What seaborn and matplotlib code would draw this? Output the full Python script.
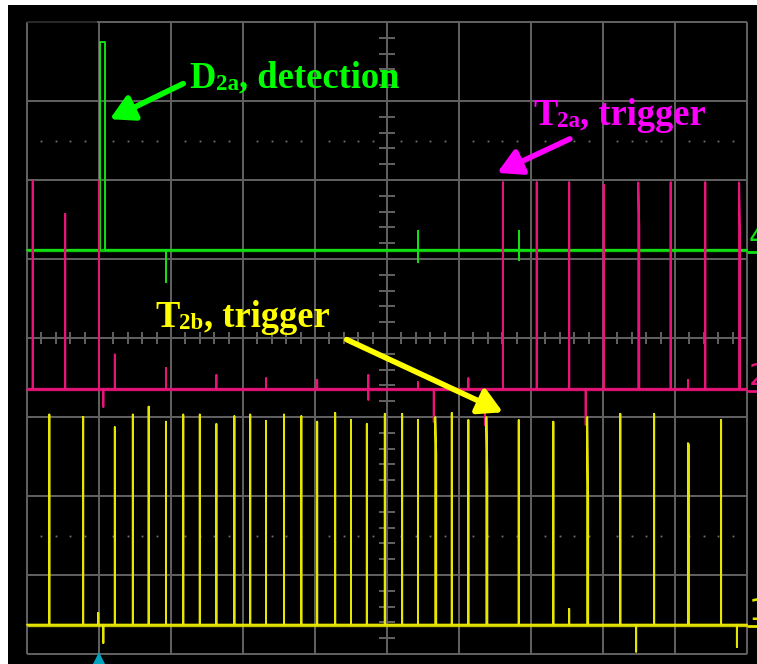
import matplotlib
matplotlib.use("Agg")
import matplotlib.pyplot as plt
import numpy as np
import pandas as pd
import seaborn as sns

# ---- captured traces (time in divisions, 10 div across; level in divisions, 8 div tall) ----
SAMPLE = 1 / 72  # one display sample in divisions

# CH4 - detector D2a (green)
ch4_base = 5.11
det_start, det_end, det_top = 1.01, 1.08, 7.75
ch4_glitch_t = [1.93, 5.43, 5.43, 6.83, 6.83]
ch4_glitch_v = [4.71, 5.35, 4.96, 5.35, 4.99]

# CH2 - trigger T2a (magenta)
ch2_base = 3.35
ch2_spike_t = [0.08, 0.53, 1.00, 6.61, 7.08, 7.53, 8.01, 8.49, 8.94, 9.42, 9.89]
ch2_spike_v = [5.99, 5.57, 5.99, 5.97, 5.97, 5.97, 5.94, 5.97, 5.97, 5.97, 5.97]
ch2_shoulder_t = [8.49, 9.89]
ch2_shoulder_v = [5.39, 5.33]
ch2_glitch_t = [1.06, 1.22, 1.93, 2.63, 3.32, 4.03, 4.74, 4.74, 5.43, 5.65, 6.13, 6.36, 7.76, 9.18]
ch2_glitch_v = [3.13, 3.79, 3.62, 3.53, 3.49, 3.47, 3.53, 3.22, 3.44, 2.94, 3.49, 2.90, 2.90, 3.47]

# CH1 - trigger T2b (yellow)
ch1_base = 0.37
ch1_spike_t = [0.31, 0.78, 1.22, 1.47, 1.69, 1.93, 2.17, 2.40, 2.63, 2.88, 3.10,
               3.32, 3.57, 3.81, 4.03, 4.28, 4.50, 4.72, 4.97, 5.21, 5.43, 5.67,
               5.90, 6.13, 6.38, 6.83, 7.31, 7.78, 8.24, 8.71, 9.18, 9.64]
ch1_spike_v = [3.03, 3.00, 2.87, 3.03, 3.13, 2.94, 3.03, 3.03, 2.91, 3.01, 3.03,
               2.95, 3.03, 3.01, 2.94, 3.05, 2.96, 2.91, 3.04, 3.04, 2.96, 3.00,
               3.05, 2.96, 3.00, 2.96, 2.94, 3.00, 3.04, 3.04, 2.67, 2.96]
ch1_shoulder_t = [5.67, 6.38, 7.78, 9.18]
ch1_shoulder_v = [2.52, 2.28, 1.94, 2.65]
ch1_glitch_t = [0.99, 1.06, 7.53, 8.46, 9.86]
ch1_glitch_v = [0.52, 0.14, 0.57, 0.03, 0.09]

channel_labels = ["4", "2", "1"]

# colours
GREEN, MAGENTA, YELLOW = "#12e012", "#e8147a", "#e6e600"
GREEN_TXT, MAGENTA_TXT, YELLOW_TXT = "#00ff00", "#ff00ff", "#ffff00"
GRID = "#626262"


def build_trace(base, spike_t=(), spike_v=(), shoulder_t=(), shoulder_v=(),
                glitch_t=(), glitch_v=(), pulse=None):
    shoulders = dict(zip(shoulder_t, shoulder_v))
    events = []
    for t, v in zip(spike_t, spike_v):
        if t in shoulders:
            pts = [(t, base), (t, v), (t + SAMPLE, shoulders[t]), (t + SAMPLE, base)]
        else:
            pts = [(t, base), (t, v), (t, base)]
        events.append((t, pts))
    for t, v in zip(glitch_t, glitch_v):
        events.append((t, [(t, base), (t, v), (t, base)]))
    if pulse is not None:
        t0, t1, top = pulse
        events.append((t0, [(t0, base), (t0, top), (t1, top), (t1, base)]))
    events.sort(key=lambda e: e[0])
    pts = [(0.0, base)]
    for _, p in events:
        pts.extend(p)
    pts.append((10.0, base))
    return pd.DataFrame(pts, columns=["t", "v"])


sns.set_theme(style="white")
plt.rcParams["font.family"] = ["Liberation Serif", "DejaVu Serif"]

W, H = 757, 664
DPI = 100
fig = plt.figure(figsize=(W / DPI, H / DPI), dpi=DPI, facecolor="white")
ax = fig.add_axes([8 / W, 0, 749 / W, 659 / H])
ax.set_facecolor("black")
ax.set_xlim(-19 / 72, 730 / 72)
ax.set_ylim(-10 / 79, 649 / 79)
for s in ax.spines.values():
    s.set_visible(False)

# graticule
glw = 1.4
ax.vlines(np.arange(0, 11), 0, 8, color=GRID, lw=glw, zorder=1)
ax.hlines(np.arange(0, 8), 0, 10, color=GRID, lw=glw, zorder=1)
ax.hlines(8, 0.97, 10, color=GRID, lw=glw, zorder=1)
ax.hlines(8, 0, 0.97, color="#2a2a2a", lw=glw, zorder=1)
minor_x = np.array([k / 5 for k in range(51) if k % 5])
minor_y = np.array([k / 5 for k in range(41) if k % 5])
ax.vlines(minor_x, 4 - 6 / 79, 4 + 6 / 79, color=GRID, lw=glw, zorder=1)
ax.hlines(minor_y, 5 - 8 / 72, 5 + 8 / 72, color=GRID, lw=glw, zorder=1)
for yd in (1.5, 6.5):
    ax.plot(minor_x, np.full_like(minor_x, yd), ls="none", marker="s",
            ms=1.3, color="#707070", mew=0, zorder=1)

# traces
traces = [
    (build_trace(ch4_base, glitch_t=ch4_glitch_t, glitch_v=ch4_glitch_v,
                 pulse=(det_start, det_end, det_top)), ch4_base, GREEN),
    (build_trace(ch2_base, ch2_spike_t, ch2_spike_v, ch2_shoulder_t, ch2_shoulder_v,
                 ch2_glitch_t, ch2_glitch_v), ch2_base, MAGENTA),
    (build_trace(ch1_base, ch1_spike_t, ch1_spike_v, ch1_shoulder_t, ch1_shoulder_v,
                 ch1_glitch_t, ch1_glitch_v), ch1_base, YELLOW),
]
for df, base, col in traces:
    ax.plot([0, 10], [base, base], color=col, lw=2.4, alpha=0.85, zorder=2,
            solid_capstyle="butt")
    sns.lineplot(data=df, x="t", y="v", sort=False, estimator=None, color=col,
                 lw=1.4, ax=ax, zorder=3)

ax.set(xlabel="", ylabel="", xticks=[], yticks=[])

# channel reference markers on the right edge
for lab, (_, base, col) in zip(channel_labels, traces):
    ax.text(10.02, base + 0.06, lab, color=col, fontsize=22, family="DejaVu Sans",
            va="baseline", ha="left", zorder=4, clip_on=True)
    ax.plot([10.02, 10.14], [base - 0.02, base - 0.02], color=col, lw=2, zorder=4)

# trigger position marker
ax.plot([1.0, 1.0], [-0.06, -0.13], color="#00a3bf", lw=3, zorder=4,
        solid_capstyle="butt", clip_on=False)
ax.plot([1.0], [-0.045], marker="^", ms=8, color="#00a3bf", mew=0, zorder=4)

# annotations: name with subscript, then description, plus an arrow
FS, FS_SUB = 26.3, 16.5
renderer = fig.canvas.get_renderer()


def label(pos, pieces, color):
    dx = 0.0
    for s, size, dy in pieces:
        t = ax.annotate(s, xy=pos, xycoords="data", xytext=(dx, dy),
                        textcoords="offset points", color=color, fontsize=size,
                        fontweight="bold", ha="left", va="baseline", zorder=5)
        dx += t.get_window_extent(renderer).width * 72 / DPI


notes = [
    (("D", "2a", ", detection"), (2.26, 7.17), (2.17, 7.22), (1.15, 6.77), GREEN_TXT),
    (("T", "2a", ", trigger"), (7.03, 6.70), (7.54, 6.52), (6.53, 6.09), MAGENTA_TXT),
    (("T", "2b", ", trigger"), (1.78, 4.14), (4.44, 3.98), (6.61, 3.06), YELLOW_TXT),
]
for (main, sub, rest), pos, tail, tip, col in notes:
    label(pos, [(main, FS, 0), (sub, FS_SUB, -1.5), (rest, FS, 0)], col)
    ax.annotate("", xy=tip, xytext=tail,
                arrowprops=dict(arrowstyle="-|>,head_length=0.9,head_width=0.5",
                                color=col, lw=4, shrinkA=0, shrinkB=0,
                                mutation_scale=16), zorder=5)

fig.savefig("out.png", dpi=DPI, facecolor="white")
